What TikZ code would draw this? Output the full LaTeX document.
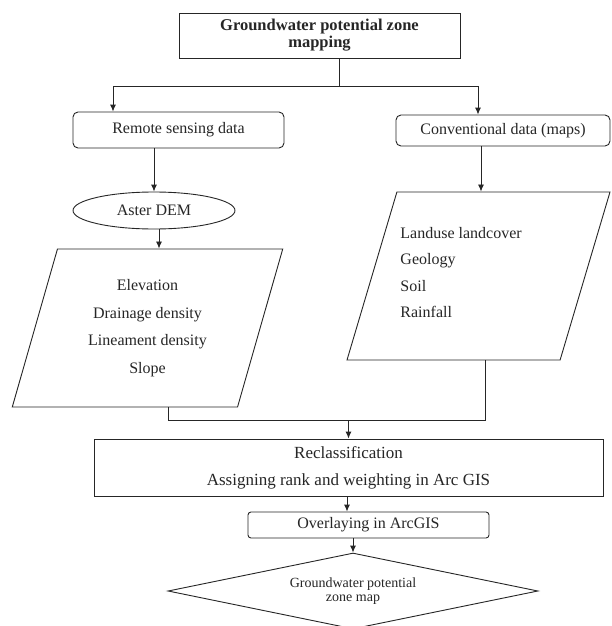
\documentclass[tikz,border=0pt]{standalone}
\usepackage{fontspec}
\setmainfont{Liberation Serif}
\usetikzlibrary{shapes.geometric,arrows.meta}
\begin{document}
\begin{tikzpicture}[x=1pt,y=-1pt,color=black!85,line width=.9pt,
        >={Latex[length=7pt,width=6pt]},
        box/.style={draw,rectangle,inner sep=0pt},
        rbox/.style={box,rounded corners=5pt},
        para/.style={draw,trapezium,trapezium stretches=true,inner sep=1pt},
        txt/.style={font=\fontsize{16}{18}\selectfont}]
    \useasboundingbox[fill=white] (0,0) rectangle (611,626);
    \node[box,minimum width=281pt,minimum height=45pt,align=center,font=\bfseries\fontsize{16.5}{17}\selectfont] (title) at (319.5,35.5) {Groundwater potential zone\\mapping};
    \node[rbox,minimum width=211pt,minimum height=36pt,txt] (rsd) at (178.5,130) {Remote sensing data};
    \node[rbox,minimum width=214pt,minimum height=31pt,txt] (cvd) at (503,130.5) {Conventional data (maps)};
    \node[draw,ellipse,inner sep=0pt,minimum width=162pt,minimum height=37pt,txt] (dem) at (154,210.5) {Aster DEM};
    \node[para,trapezium left angle=73,trapezium right angle=107,minimum width=271pt,minimum height=158pt,align=center,font=\fontsize{16}{27.5}\selectfont] (lpar) at (147.5,328) {Elevation\\Drainage density\\Lineament density\\Slope};
    \node[para,trapezium left angle=73,trapezium right angle=107,minimum width=263pt,minimum height=168pt] (rpar) at (478.5,276) {};
    \node[inner sep=0pt,anchor=west,align=left,font=\fontsize{16}{26.5}\selectfont] (rlist) at (400,272.5) {Landuse landcover\\Geology\\Soil\\Rainfall};
    \node[box,minimum width=509pt,minimum height=57pt,align=center,font=\fontsize{17}{27}\selectfont] (recl) at (348.5,467.5) {Reclassification\\Assigning rank and weighting in Arc GIS};
    \node[box,rounded corners=3pt,minimum width=241pt,minimum height=26pt,txt] (ovl) at (368.5,525) {Overlaying in ArcGIS};
    \node[draw,diamond,aspect=4.87,inner sep=0pt,minimum width=370pt,minimum height=76pt,align=center,font=\fontsize{14}{13.5}\selectfont] (gpz) at (353,591) {Groundwater potential\\zone map};
    \coordinate (split) at (339,86);
    \coordinate (lft) at (113,86);
    \coordinate (rgt) at (478,86);
    \coordinate (cvo) at (481,0);
    \coordinate (jl) at (168,420);
    \coordinate (jr) at (485,420);
    \draw (split |- title.south) -- (split);
    \draw[->] (split) -- (lft) -- (lft |- rsd.north);
    \draw[->] (split) -- (rgt) -- (rgt |- cvd.north);
    \draw[->] (dem.north |- rsd.south) -- (dem.north);
    \draw[->] ([xshift=5pt]dem.south) -- ([xshift=5pt]dem.south |- lpar.north);
    \draw[->] (cvo |- cvd.south) -- (cvo |- rpar.north);
    \draw (jl |- lpar.south) -- (jl) -- (jr) -- (jr |- rpar.south);
    \draw[->] (recl.north |- jl) -- (recl.north);
    \draw[->] ([xshift=-1.5pt]recl.south) -- ([xshift=-1.5pt]recl.south |- ovl.north);
    \draw[->] (gpz.north |- ovl.south) -- (gpz.north);
\end{tikzpicture}
\end{document}
